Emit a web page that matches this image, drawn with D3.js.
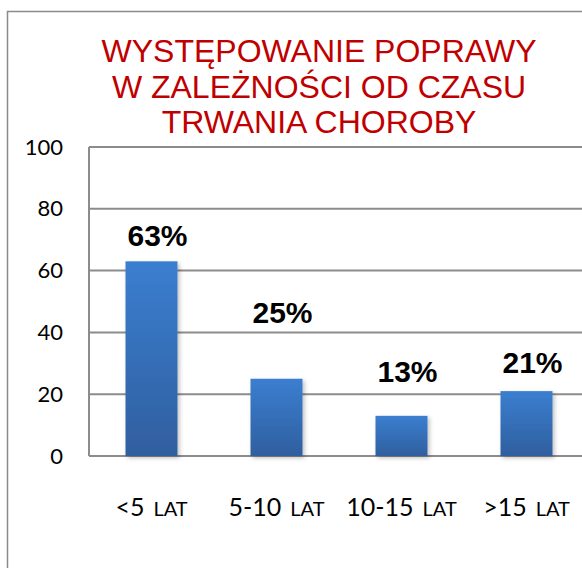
<!DOCTYPE html>
<html>
<head>
<meta charset="utf-8">
<script src="https://cdn.jsdelivr.net/npm/d3@7"></script>
<style>
  html, body { margin: 0; padding: 0; background: #fff; }
  svg { display: block; }
</style>
</head>
<body>
<div id="chart"></div>
<script>
// data
var categories = ["<5", "5-10", "10-15", ">15"];
var unitLabel = "LAT";
var values = [63, 25, 13, 21];
var valueLabels = ["63%", "25%", "13%", "21%"];
// where each % label sits, in axis units (they were placed by hand)
var labelAt = [68, 43, 24, 27];
var yTicks = [0, 20, 40, 60, 80, 100];
var titleLines = ["WYSTĘPOWANIE POPRAWY", "W ZALEŻNOŚCI OD CZASU", "TRWANIA CHOROBY"];

var width = 582, height = 568;
var svg = d3.select("#chart").append("svg")
  .attr("width", width)
  .attr("height", height);

var defs = svg.append("defs");
var grad = defs.append("linearGradient")
  .attr("id", "barGrad")
  .attr("x1", 0).attr("y1", 0).attr("x2", 0).attr("y2", 1);
grad.append("stop").attr("offset", "0%").attr("stop-color", "#3b7ed0");
grad.append("stop").attr("offset", "100%").attr("stop-color", "#2f5f9f");

var shadow = defs.append("filter").attr("id", "shadow")
  .attr("x", "-20%").attr("y", "-5%").attr("width", "150%").attr("height", "115%");
shadow.append("feDropShadow")
  .attr("dx", 2).attr("dy", 2).attr("stdDeviation", 2)
  .attr("flood-color", "#000").attr("flood-opacity", 0.25);

// outer frame
svg.append("rect")
  .attr("x", 7.5).attr("y", 11.5)
  .attr("width", 600).attr("height", 600)
  .attr("fill", "none")
  .attr("stroke", "#8a8a8a")
  .attr("stroke-width", 1.5);

var plotLeft = 89, plotTop = 147, plotBottom = 456;

var x = d3.scaleBand()
  .domain(categories)
  .range([plotLeft, plotLeft + 500])
  .paddingInner(0.584)
  .paddingOuter(0.292);

var y = d3.scaleLinear()
  .domain([0, 100])
  .range([plotBottom, plotTop]);

// gridlines
svg.append("g").selectAll("line")
  .data(yTicks)
  .join("line")
  .attr("x1", plotLeft).attr("x2", width + 10)
  .attr("y1", function(d) { return y(d); })
  .attr("y2", function(d) { return y(d); })
  .attr("stroke", "#8c8c8c")
  .attr("stroke-width", 2);

svg.append("line")
  .attr("x1", plotLeft).attr("x2", plotLeft)
  .attr("y1", y(100)).attr("y2", y(0))
  .attr("stroke", "#8c8c8c")
  .attr("stroke-width", 2);

// y tick labels
var yAxis = svg.append("g")
  .attr("transform", "translate(63,0)")
  .call(d3.axisLeft(y).tickValues(yTicks).tickSize(0).tickPadding(0));
yAxis.select(".domain").remove();
yAxis.selectAll("text")
  .attr("font-family", "Lato, 'Open Sans', sans-serif")
  .attr("font-size", 22)
  .attr("fill", "#000");

// bars
svg.append("g").selectAll("rect")
  .data(values)
  .join("rect")
  .attr("x", function(d, i) { return x(categories[i]); })
  .attr("y", function(d) { return y(d); })
  .attr("width", x.bandwidth())
  .attr("height", function(d) { return y(0) - y(d); })
  .attr("fill", "url(#barGrad)")
  .attr("filter", "url(#shadow)");

// value labels
svg.append("g").selectAll("text")
  .data(valueLabels)
  .join("text")
  .attr("x", function(d, i) { return x(categories[i]) + x.bandwidth() / 2 + 6; })
  .attr("y", function(d, i) { return y(labelAt[i]); })
  .attr("text-anchor", "middle")
  .attr("font-family", "'Liberation Sans', Arial, sans-serif")
  .attr("font-weight", "bold")
  .attr("font-size", 30)
  .attr("fill", "#000")
  .text(function(d) { return d; });

// category labels
var cat = svg.append("g").selectAll("text")
  .data(categories)
  .join("text")
  .attr("x", function(d) { return x(d) + x.bandwidth() / 2; })
  .attr("y", 516)
  .attr("text-anchor", "middle")
  .attr("font-family", "Lato, 'Open Sans', sans-serif")
  .attr("font-size", 25)
  .attr("fill", "#000");
cat.append("tspan").text(function(d) { return d; });
cat.append("tspan").attr("dx", 9).attr("font-size", 20).text(unitLabel);

// title
svg.append("g").selectAll("text")
  .data(titleLines)
  .join("text")
  .attr("x", 319)
  .attr("y", function(d, i) { return 62 + i * 35.5; })
  .attr("text-anchor", "middle")
  .attr("font-family", "'Liberation Sans', Arial, sans-serif")
  .attr("font-size", 32)
  .attr("fill", "#c00000")
  .text(function(d) { return d; });
</script>
</body>
</html>
